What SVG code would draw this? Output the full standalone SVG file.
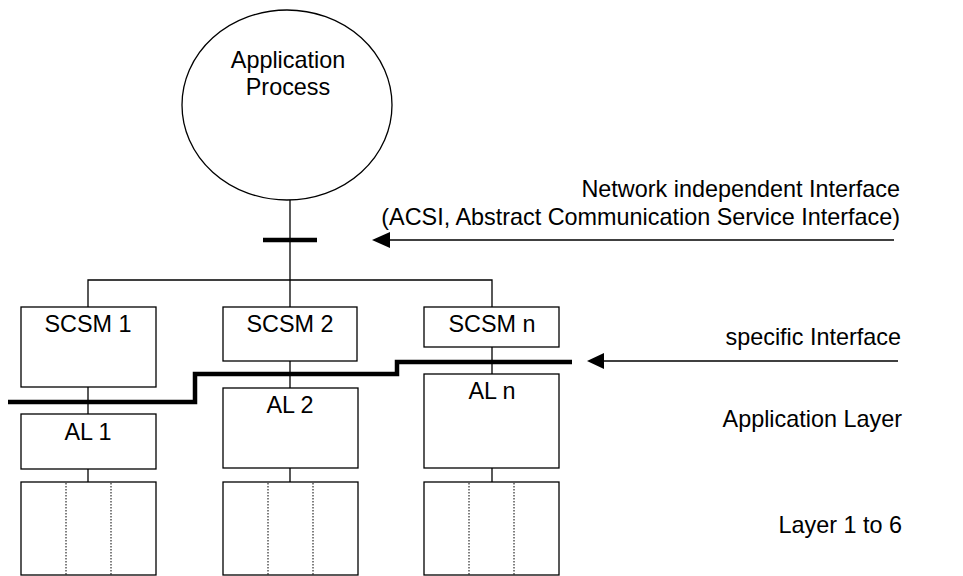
<svg xmlns="http://www.w3.org/2000/svg" width="963" height="576" viewBox="0 0 963 576">
<style>
.box{fill:#fff;stroke:#000;stroke-width:1.3}
.ln{stroke:#000;stroke-width:1.3;fill:none}
.thick{stroke:#000;stroke-width:4.5;fill:none}
.dot{stroke:#000;stroke-width:1;stroke-dasharray:1.5,1.5}
text{font-family:"Liberation Sans",Arial,sans-serif;font-size:23.4px;fill:#000}
.c{text-anchor:middle}
.r{text-anchor:end}
</style>
<rect width="963" height="576" fill="#fff"/>
<g id="connectors">
<line class="ln" x1="290" y1="200" x2="290" y2="280"/>
<polyline class="ln" points="88,307 88,280 492,280 492,307"/>
<line class="ln" x1="290" y1="280" x2="290" y2="307"/>
<line class="thick" x1="263" y1="240" x2="317" y2="240"/>
<line class="ln" x1="88" y1="387" x2="88" y2="414"/>
<line class="ln" x1="290" y1="361" x2="290" y2="388"/>
<line class="ln" x1="492" y1="347" x2="492" y2="374"/>
<line class="ln" x1="88" y1="469" x2="88" y2="482"/>
<line class="ln" x1="290" y1="468" x2="290" y2="482"/>
<line class="ln" x1="492" y1="468" x2="492" y2="482"/>
<polyline class="thick" points="8,402 195,402 195,374 397,374 397,362 572,362"/>
<line class="ln" x1="389" y1="240" x2="894" y2="240"/>
<polygon points="372,240 390,232 390,248" fill="#000"/>
<line class="ln" x1="602" y1="361" x2="898" y2="361"/>
<polygon points="587,361 604,353 604,369" fill="#000"/>
</g>
<g id="app-process">
<ellipse class="box" cx="287" cy="105" rx="105" ry="95"/>
<text class="c" x="288" y="68">Application</text>
<text class="c" x="288" y="95">Process</text>
</g>
<g id="scsm1"><rect class="box" x="21" y="307" width="135" height="80"/><text class="c" x="88" y="332">SCSM 1</text></g>
<g id="scsm2"><rect class="box" x="223" y="307" width="134" height="54"/><text class="c" x="290" y="332">SCSM 2</text></g>
<g id="scsmn"><rect class="box" x="424" y="307" width="135" height="40"/><text class="c" x="492" y="332">SCSM n</text></g>
<g id="al1"><rect class="box" x="21" y="414" width="135" height="55"/><text class="c" x="88" y="440">AL 1</text></g>
<g id="al2"><rect class="box" x="223" y="388" width="135" height="80"/><text class="c" x="290" y="413">AL 2</text></g>
<g id="aln"><rect class="box" x="424" y="374" width="135" height="94"/><text class="c" x="492" y="399">AL n</text></g>
<g id="layers1"><rect class="box" x="21" y="482" width="135" height="93"/><line class="dot" x1="66" y1="483" x2="66" y2="575"/><line class="dot" x1="111" y1="483" x2="111" y2="575"/></g>
<g id="layers2"><rect class="box" x="223" y="482" width="135" height="93"/><line class="dot" x1="268" y1="483" x2="268" y2="575"/><line class="dot" x1="313" y1="483" x2="313" y2="575"/></g>
<g id="layersn"><rect class="box" x="424" y="482" width="135" height="93"/><line class="dot" x1="469" y1="483" x2="469" y2="575"/><line class="dot" x1="514" y1="483" x2="514" y2="575"/></g>
<g id="labels">
<text class="r" x="900" y="197">Network independent Interface</text>
<text class="r" x="900" y="225">(ACSI, Abstract Communication Service Interface)</text>
<text class="r" x="901" y="345">specific Interface</text>
<text class="r" x="902" y="427">Application Layer</text>
<text class="r" x="902" y="533">Layer 1 to 6</text>
</g>
</svg>
